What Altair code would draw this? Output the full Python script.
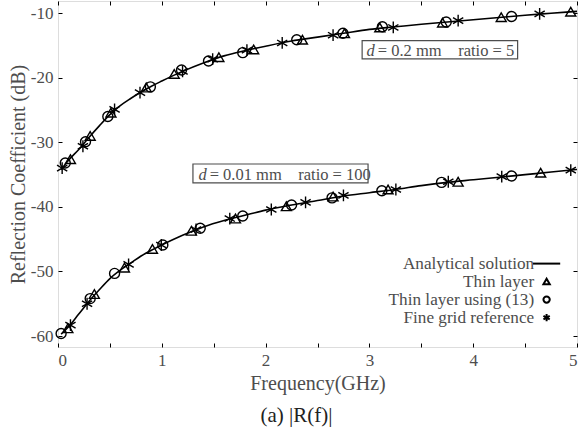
import altair as alt
import pandas as pd

FONT = "'Liberation Serif', 'Times New Roman', Times, serif"
GREY = "#4d4d4d"

# ---------------- analytical solution (solid line) ----------------
freq_line = [0.03, 0.1, 0.2, 0.3, 0.4, 0.5, 0.6, 0.7, 0.8, 0.9, 1.0, 1.2, 1.4, 1.6,
             1.8, 2.0, 2.25, 2.5, 2.75, 3.0, 3.25, 3.5, 3.75, 4.0, 4.25, 4.5, 4.75, 5.0]
upper_line = [-34.2, -32.8, -31.1, -29.2, -27.4, -25.7, -24.3, -23.2, -22.2, -21.3, -20.5,
              -19.0, -17.7, -16.6, -15.8, -15.1, -14.3, -13.7, -13.1, -12.5, -12.1, -11.7,
              -11.35, -11.0, -10.65, -10.3, -10.0, -9.7]
lower_line = [-59.7, -58.6, -56.6, -54.6, -52.8, -51.1, -49.8, -48.7, -47.6, -46.7, -45.9,
              -44.4, -43.1, -42.1, -41.3, -40.5, -39.7, -39.0, -38.3, -37.8, -37.3, -36.7,
              -36.2, -35.8, -35.4, -35.0, -34.6, -34.2]

# ---------------- d = 0.2 mm, ratio = 5 ----------------
thin_f_up = [0.12, 0.31, 0.51, 0.85, 1.12, 1.55, 1.885, 2.355, 2.76, 3.10, 3.705, 4.27, 4.94]
thin_r_up = [-32.6, -29.0, -25.4, -21.5, -19.4, -16.8, -15.6, -14.1, -13.1, -12.2, -11.45, -10.6, -9.75]
eq13_f_up = [0.07, 0.265, 0.48, 0.89, 1.19, 1.45, 1.78, 2.30, 2.745, 3.125, 3.74, 4.37]
eq13_r_up = [-33.2, -29.9, -26.0, -21.4, -18.8, -17.4, -16.1, -14.1, -13.1, -12.1, -11.35, -10.5]
fine_f_up = [0.04, 0.24, 0.545, 0.79, 1.20, 1.49, 1.82, 2.16, 2.65, 3.23, 3.855, 4.64]
fine_r_up = [-34.0, -30.6, -24.9, -22.3, -19.0, -17.1, -15.7, -14.6, -13.4, -12.2, -11.15, -10.1]

# ---------------- d = 0.01 mm, ratio = 100 ----------------
thin_f_lo = [0.095, 0.35, 0.64, 0.91, 1.285, 1.71, 2.20, 2.65, 3.18, 3.855, 4.65]
thin_r_lo = [-58.8, -53.5, -49.4, -46.5, -43.7, -41.8, -39.9, -38.4, -37.3, -36.1, -34.7]
eq13_f_lo = [0.03, 0.31, 0.545, 1.01, 1.37, 1.78, 2.25, 2.64, 3.12, 3.695, 4.37]
eq13_r_lo = [-59.6, -54.2, -50.3, -45.9, -43.3, -41.4, -39.7, -38.6, -37.5, -36.2, -35.2]
fine_f_lo = [0.12, 0.28, 0.68, 0.995, 1.33, 1.655, 2.055, 2.385, 2.75, 3.255, 3.76, 4.275, 4.94]
fine_r_lo = [-58.3, -55.0, -48.9, -45.9, -43.5, -41.8, -40.4, -39.3, -38.2, -37.3, -36.1, -35.3, -34.3]

series_names = ["Analytical solution", "Thin layer", "Thin layer using (13)", "Fine grid reference"]

# annotation boxes
ann_d = ["d", "d"]
ann_rest = ["= 0.2 mm\u2003ratio = 5", "= 0.01 mm\u2003ratio = 100"]
ann_x = [3.052, 1.432]
ann_y = [-15.89, -35.0]
box_x1 = [2.93, 1.30]
box_x2 = [4.428, 2.987]
box_y1 = [-14.25, -33.35]
box_y2 = [-17.08, -36.29]

x_ticks = [0, 0.5, 1, 1.5, 2, 2.5, 3, 3.5, 4, 4.5, 5]
x_labels = [0, 1, 2, 3, 4, 5]
y_ticks = [-60, -50, -40, -30, -20, -10]

# ---------------- tables ----------------
line_df = pd.DataFrame({
    "f": freq_line * 2,
    "r": upper_line + lower_line,
    "curve": ["upper"] * len(freq_line) + ["lower"] * len(freq_line),
})

rows = []
for name, fl, rl in [
    ("Thin layer", thin_f_up, thin_r_up), ("Thin layer using (13)", eq13_f_up, eq13_r_up),
    ("Fine grid reference", fine_f_up, fine_r_up), ("Thin layer", thin_f_lo, thin_r_lo),
    ("Thin layer using (13)", eq13_f_lo, eq13_r_lo), ("Fine grid reference", fine_f_lo, fine_r_lo),
]:
    for f, r in zip(fl, rl):
        rows.append({"f": f, "r": r, "series": name})
pts_df = pd.DataFrame(rows)

ann_df = pd.DataFrame({"d": ann_d, "rest": ann_rest, "x": ann_x, "y": ann_y,
                       "x1": box_x1, "x2": box_x2, "y1": box_y1, "y2": box_y2})

xs = alt.Scale(domain=[0, 5], nice=False, zero=False)
ys = alt.Scale(domain=[-61.7, -8.1], nice=False, zero=False)

STAR = "M0,-1.15L0,1.15M-1,-0.58L1,0.58M-1,0.58L1,-0.58"
LINE_SYM = "M-4.3,0L4.3,0"

lbl = "'' + datum.value"

main_x = alt.Axis(orient="bottom", values=x_labels, ticks=False, domain=False, grid=False,
                  labelFont=FONT, labelFontSize=17, labelColor=GREY, labelPadding=5,
                  labelExpr=lbl, title="Frequency(GHz)", titleFont=FONT, titleFontSize=20,
                  titleFontWeight="normal", titleColor=GREY, titlePadding=5)
main_y = alt.Axis(orient="left", values=y_ticks, ticks=False, domain=False, grid=False,
                  labelFont=FONT, labelFontSize=17, labelColor=GREY, labelPadding=5,
                  labelExpr=lbl, title="Reflection Coefficient (dB)", titleFont=FONT,
                  titleFontSize=20, titleFontWeight="normal", titleColor=GREY, titlePadding=2)


def tick_axis(orient, vals):
    return alt.Axis(orient=orient, values=vals, offset=-4, tickSize=4, tickWidth=1,
                    tickColor="black", labels=False, domain=False, grid=False, title=None)


line = alt.Chart(line_df).mark_line(color="black", strokeWidth=1.6, interpolate="monotone").encode(
    x=alt.X("f:Q", scale=xs, axis=main_x),
    y=alt.Y("r:Q", scale=ys, axis=main_y),
    detail="curve:N",
)

legend = alt.Legend(title=None, orient="none", legendX=480, legendY=254, padding=0,
                    labelAlign="right", labelOffset={"expr": "-21"}, labelFont=FONT,
                    labelFontSize=17.2, labelColor=GREY, labelLimit=400, rowPadding=0,
                    symbolSize=40, symbolStrokeWidth=2, symbolStrokeColor="black",
                    symbolFillColor="transparent", symbolOpacity=1)

points = alt.Chart(pts_df).mark_point(filled=False, color="black", strokeWidth=1.4,
                                       opacity=1).encode(
    x=alt.X("f:Q", scale=xs, axis=tick_axis("bottom", x_ticks)),
    y=alt.Y("r:Q", scale=ys, axis=tick_axis("left", y_ticks)),
    shape=alt.Shape("series:N", scale=alt.Scale(domain=series_names,
                                                range=[LINE_SYM, "triangle-up", "circle", STAR]),
                    legend=legend),
    size=alt.condition("datum.series == 'Fine grid reference'", alt.value(105), alt.value(100)),
)

boxes = alt.Chart(ann_df).mark_rect(fill="white", fillOpacity=0, stroke=GREY, strokeWidth=1.2).encode(
    x=alt.X("x1:Q", scale=xs, axis=tick_axis("top", x_ticks)),
    x2="x2:Q",
    y=alt.Y("y1:Q", scale=ys, axis=tick_axis("right", y_ticks)),
    y2="y2:Q",
)

txt_d = alt.Chart(ann_df).mark_text(font=FONT, fontSize=16.5, fontStyle="italic", color=GREY,
                                    align="right", baseline="middle").encode(
    x=alt.X("x:Q", scale=xs, axis=None), y=alt.Y("y:Q", scale=ys, axis=None), text="d:N")

txt_rest = alt.Chart(ann_df).mark_text(font=FONT, fontSize=16.5, color=GREY, align="left",
                                       baseline="middle", dx=3).encode(
    x=alt.X("x:Q", scale=xs, axis=None), y=alt.Y("y:Q", scale=ys, axis=None), text="rest:N")

chart = alt.layer(line, points, boxes, txt_d, txt_rest).resolve_axis(
    x="independent", y="independent"
).properties(
    width=519, height=346,
    autosize=alt.AutoSizeParams(type="none"),
    padding={"left": 58, "top": 1, "right": 2, "bottom": 87},
    title=alt.TitleParams("(a)  |R(f)|", orient="bottom", anchor="middle", font=FONT,
                          fontSize=21, fontWeight="normal", color="#222", offset=12, dx=-21),
).configure_view(stroke="black", strokeWidth=1.6).configure(background="white")

chart.save("out.html", embed_options={"renderer": "svg", "actions": False})
